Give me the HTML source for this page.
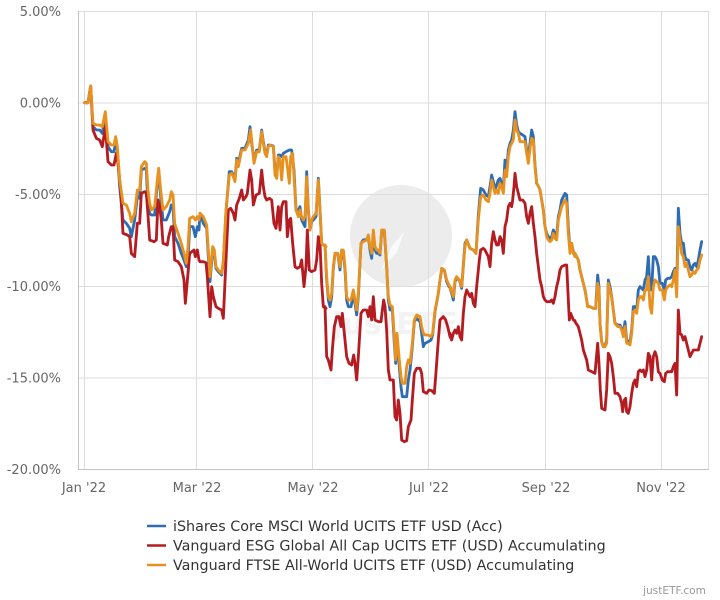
<!DOCTYPE html>
<html><head><meta charset="utf-8"><style>
html,body{margin:0;padding:0;background:#fff;}
svg{display:block;}
</style></head><body>
<svg width="720" height="600" viewBox="0 0 720 600" xmlns="http://www.w3.org/2000/svg">
<rect width="720" height="600" fill="#fff"/>
<!-- watermark -->
<circle cx="401" cy="236" r="51" fill="#ececec"/>
<polygon points="380,272 392,246 404,232 397,252" fill="#fafafa"/>
<text x="395" y="334" text-anchor="middle" font-family="DejaVu Sans, sans-serif" font-size="30" font-weight="bold" fill="#f3f3f3">justETF</text>
<!-- grid -->
<g stroke="#dcdcdc" stroke-width="1" fill="none">
<line x1="78" y1="11.5" x2="709" y2="11.5"/>
<line x1="78" y1="103" x2="709" y2="103"/>
<line x1="78" y1="194.5" x2="709" y2="194.5"/>
<line x1="78" y1="286.5" x2="709" y2="286.5"/>
<line x1="78" y1="378" x2="709" y2="378"/>
<line x1="84.5" y1="11" x2="84.5" y2="469"/>
<line x1="196.5" y1="11" x2="196.5" y2="469"/>
<line x1="312.5" y1="11" x2="312.5" y2="469"/>
<line x1="428.5" y1="11" x2="428.5" y2="469"/>
<line x1="545.5" y1="11" x2="545.5" y2="469"/>
<line x1="661.5" y1="11" x2="661.5" y2="469"/>
<line x1="708.5" y1="11" x2="708.5" y2="469"/>
</g>
<g stroke="#c4c4c4" stroke-width="1" fill="none">
<line x1="78.5" y1="11" x2="78.5" y2="469.5"/>
<line x1="78" y1="469.5" x2="709" y2="469.5"/>
</g>
<!-- y labels -->
<g font-family="DejaVu Sans, sans-serif" font-size="13" fill="#666" text-anchor="end">
<text x="61" y="16">5.00%</text>
<text x="61" y="107.5">0.00%</text>
<text x="61" y="199">-5.00%</text>
<text x="61" y="291">-10.00%</text>
<text x="61" y="382.5">-15.00%</text>
<text x="61" y="474">-20.00%</text>
</g>
<!-- x labels -->
<g font-family="DejaVu Sans, sans-serif" font-size="13" fill="#666" text-anchor="middle">
<text x="84" y="492">Jan '22</text>
<text x="197" y="492">Mar '22</text>
<text x="313" y="492">May '22</text>
<text x="429" y="492">Jul '22</text>
<text x="546" y="492">Sep '22</text>
<text x="661" y="492">Nov '22</text>
</g>
<!-- series -->
<g fill="none" stroke-width="8.5" stroke-linejoin="round" stroke-linecap="round">
<!-- BLUE -->
<g stroke="#2f6db3">
<polyline transform="translate(78 80) scale(0.33333)" points="20,68 30,68 38,20 45,140 55,150 65,150 73,160 82,100 90,200 100,215 108,215 113,185 118,210 125,320 135,420 145,430 155,445 160,470 170,420 178,350 185,355 190,270 200,265 205,270 210,380 215,400 220,405 230,405 238,310 242,270 248,350 255,420 265,420 275,395 280,375 285,380 290,470 300,490 310,520 318,540 325,560 330,540 335,440 345,440 352,470 358,440 363,450 366,400"/>
<polyline transform="translate(200 110) scale(0.33333)" points="0,310 10,340 20,355 25,440 30,515 38,420 43,430 48,475 55,485 65,495 70,455 78,305 88,185 95,185 100,195 105,210 110,145 115,160 125,115 135,115 145,90 150,50 155,100 162,150 170,120 178,120 185,60 190,95 195,125 200,135 205,105 210,105 220,108 225,180 230,200 235,135 240,135 245,140 250,130 258,125 268,120 275,120 282,180 288,300 295,300 300,290 305,330 310,340 315,350 320,185 325,300 330,360 335,335 340,330 348,320 355,205 360,300 365,400 370,405 378,410"/>
<polyline transform="translate(325 200) scale(0.33333)" points="0,135 5,240 10,300 15,320 20,290 25,205 30,160 38,160 45,210 50,150 55,155 60,210 65,300 70,320 78,320 85,285 90,310 95,345 100,290 108,130 115,120 125,118 130,110 135,150 140,175 145,100 150,150 155,160 160,160 165,165 170,95 178,95 185,200 190,300 195,330 202,330 208,430 212,490 216,420 222,490 228,560 232,590 245,590 250,540 255,510 262,440 268,365 275,355 285,365 290,400 295,440 300,430 310,425 318,420 323,405 330,335 340,280 345,240 350,210 358,210 365,245 372,260 378,265"/>
<polyline transform="translate(450 100) scale(0.33333)" points="0,565 5,580 10,600 15,545 20,535 28,540 35,565 40,495 45,430 50,420 60,445 70,450 78,460 85,345 92,265 100,270 108,285 115,290 120,260 125,225 130,245 135,270 140,255 145,240 150,235 155,250 160,265 165,180 170,210 175,150 180,130 185,120 190,90 195,35 200,75 205,95 210,100 218,105 225,110 230,150 235,170 240,130 245,90 250,110 255,195 260,250 265,258 270,270 275,300 280,330 285,380 290,400 295,410 300,415 305,410 310,390 315,400 320,405 325,350 330,330 335,300 340,290 345,280 350,285 355,380 360,450 365,430 370,455 375,465"/>
<polyline transform="translate(575 190) scale(0.33333)" points="0,190 10,210 15,240 20,260 25,280 30,300 35,330 38,350 45,350 55,355 62,355 68,255 72,290 75,400 80,455 85,470 90,470 95,450 100,270 105,290 110,320 115,360 120,400 128,405 135,405 140,415 145,430 150,395 155,450 160,455 165,455 170,420 175,350 180,350 185,360 190,300 195,290 200,295 205,300 210,270 215,260 220,200 225,300 230,300 235,200 240,200 245,210 250,230 255,280 262,280 268,300 272,270 278,265 285,265 290,260 295,245 300,235 305,300 310,55 315,130 320,160 325,160 330,200 335,210 340,210 345,230 350,240 355,225 360,220 365,230 370,210 375,180 380,155"/>
</g>
<!-- RED -->
<g stroke="#b41c22">
<polyline transform="translate(78 80) scale(0.33333)" points="20,68 30,68 38,18 45,150 55,175 65,180 73,200 82,140 90,245 100,255 108,255 115,220 120,250 128,330 135,460 148,465 155,470 160,520 170,530 178,430 185,430 190,340 200,335 205,340 210,405 215,480 228,485 235,480 240,360 245,380 250,420 255,490 268,495 272,470 280,440 285,440 290,540 300,545 310,560 318,600 322,670 330,580 335,520 348,510 352,530 358,510 363,540 366,545"/>
<polyline transform="translate(200 110) scale(0.33333)" points="0,455 10,455 18,458 22,500 30,620 35,530 40,560 48,590 55,595 65,600 70,625 78,450 85,300 92,295 100,310 105,330 110,285 118,265 125,240 130,270 138,260 142,250 150,180 155,210 160,285 168,255 178,250 185,180 190,230 195,260 200,270 208,265 215,270 222,340 228,355 235,290 240,360 245,290 250,275 258,275 262,380 268,330 272,325 278,400 285,470 292,475 300,470 305,450 312,530 318,470 322,360 328,480 335,485 345,480 350,450 355,380 360,400 365,520 370,590 378,595"/>
<polyline transform="translate(325 200) scale(0.33333)" points="0,320 5,470 10,480 18,510 22,450 28,380 35,350 42,350 48,380 52,340 58,400 65,470 72,490 80,495 86,465 90,490 95,540 100,470 108,340 115,330 125,330 130,350 135,320 140,360 145,290 150,360 160,365 168,365 172,330 176,300 180,320 185,390 190,510 195,540 205,540 210,650 215,660 220,600 225,640 230,720 238,725 245,722 250,680 258,660 262,600 268,520 275,505 285,505 290,520 295,575 305,580 312,570 320,572 328,580 332,530 340,420 345,360 355,350 362,360 368,380 375,410 378,415"/>
<polyline transform="translate(450 100) scale(0.33333)" points="0,700 5,720 10,700 15,690 20,700 25,680 30,710 35,720 40,640 45,590 50,570 55,580 60,590 65,580 70,610 75,620 80,560 88,480 92,450 100,445 105,450 110,460 115,470 120,500 125,430 130,395 135,420 140,435 145,435 150,410 155,420 160,460 165,380 170,360 175,320 180,310 185,320 188,300 192,260 195,220 200,260 205,280 210,300 218,300 225,310 230,350 235,370 240,340 245,320 250,370 255,410 260,460 265,500 270,540 275,560 280,590 285,600 290,605 300,605 305,600 310,610 315,590 320,560 325,540 330,510 335,500 345,495 350,495 355,600 358,660 362,640 370,660 375,662"/>
<polyline transform="translate(575 190) scale(0.33333)" points="0,395 10,410 15,430 20,450 25,480 35,510 40,540 50,545 60,550 68,460 72,520 76,600 80,655 90,660 95,600 100,490 105,500 110,520 115,560 120,610 128,610 135,620 140,640 143,665 148,630 152,625 155,665 160,670 165,650 170,610 175,580 180,570 185,590 190,545 195,540 200,545 205,540 210,560 215,540 220,490 225,500 230,570 235,500 240,485 245,500 250,545 255,550 262,570 268,575 272,550 278,545 285,545 290,545 295,530 300,520 305,615 310,360 315,430 320,435 325,450 330,440 335,460 340,480 345,500 350,490 355,480 362,480 370,480 375,460 380,440"/>
</g>
<!-- ORANGE -->
<g stroke="#e8911f">
<polyline transform="translate(78 80) scale(0.33333)" points="20,68 30,68 38,18 45,130 55,135 65,135 73,140 82,95 90,185 100,195 108,195 113,170 118,200 125,300 135,370 145,375 155,400 160,425 170,400 178,330 185,330 190,260 200,245 205,250 210,330 215,370 220,390 230,380 238,300 242,265 248,330 255,390 265,380 275,360 280,335 285,345 290,430 300,460 310,490 318,520 325,550 330,500 335,415 345,410 352,420 358,410 363,420 366,400"/>
<polyline transform="translate(200 110) scale(0.33333)" points="0,310 10,320 20,345 25,420 30,500 38,410 43,420 48,470 55,480 65,490 70,450 78,300 88,195 95,190 100,200 105,215 110,150 115,170 125,120 135,120 145,100 152,60 158,120 162,160 170,125 178,125 185,65 190,100 195,130 200,140 205,110 210,105 220,110 225,195 230,205 235,140 240,150 245,210 250,140 258,140 262,170 268,220 272,140 278,130 282,200 288,300 295,320 300,300 305,320 310,330 315,320 320,200 325,300 330,360 335,330 340,320 348,310 355,210 360,300 365,400 370,405 378,410"/>
<polyline transform="translate(325 200) scale(0.33333)" points="0,135 5,230 10,290 15,300 20,280 25,200 30,160 38,160 45,200 50,150 55,150 60,200 65,290 70,300 78,300 85,270 90,300 95,330 100,280 108,130 115,125 125,120 130,105 135,140 140,160 145,90 150,140 155,150 160,150 165,160 170,90 178,90 185,200 190,290 195,315 202,320 208,410 212,480 216,400 222,470 228,530 232,550 240,550 245,500 250,480 255,490 262,430 268,360 275,345 285,350 290,380 295,400 300,405 310,405 318,410 323,400 330,330 340,280 345,240 350,205 358,210 365,240 372,255 378,265"/>
<polyline transform="translate(450 100) scale(0.33333)" points="0,565 5,575 10,590 15,540 20,530 28,540 35,560 40,500 45,440 50,420 60,445 70,450 78,460 85,360 92,290 100,285 108,300 115,305 120,280 125,240 130,260 135,280 140,270 145,280 150,250 155,260 160,280 165,210 170,230 175,170 180,140 185,130 190,120 195,60 200,90 205,100 210,125 218,125 225,125 230,160 235,190 240,145 245,115 250,120 255,200 260,250 265,258 270,270 275,300 280,330 285,380 290,410 295,420 300,425 305,420 310,400 315,415 320,420 325,360 330,340 335,320 340,310 345,300 350,310 355,400 360,460 365,430 370,460 375,470"/>
<polyline transform="translate(575 190) scale(0.33333)" points="0,190 10,210 15,240 20,260 25,280 30,300 35,330 38,350 45,350 55,355 62,355 68,280 72,300 75,400 80,455 85,470 90,470 95,460 100,280 105,300 110,320 115,360 120,400 128,410 135,410 140,420 145,440 150,410 155,460 160,460 165,465 170,430 175,365 180,360 185,370 190,330 195,320 200,320 205,330 210,300 215,300 220,260 225,350 230,370 235,290 240,270 245,275 250,280 255,300 262,300 268,330 272,300 278,290 285,285 290,290 295,270 300,240 305,320 310,110 315,150 320,190 325,200 330,230 335,220 340,240 345,260 350,255 355,245 360,250 365,240 370,235 375,210 380,195"/>
</g>
</g>
<!-- legend -->
<g stroke-width="2.5">
<line x1="147" y1="526" x2="166" y2="526" stroke="#2f6db3"/>
<line x1="147" y1="545.5" x2="166" y2="545.5" stroke="#b41c22"/>
<line x1="147" y1="565" x2="166" y2="565" stroke="#e8911f"/>
</g>
<g font-family="DejaVu Sans, sans-serif" font-size="14.3" fill="#333">
<text x="173" y="531">iShares Core MSCI World UCITS ETF USD (Acc)</text>
<text x="173" y="550.5">Vanguard ESG Global All Cap UCITS ETF (USD) Accumulating</text>
<text x="173" y="570">Vanguard FTSE All-World UCITS ETF (USD) Accumulating</text>
</g>
<text x="706" y="594" text-anchor="end" font-family="DejaVu Sans, sans-serif" font-size="10.5" fill="#999" textLength="63" lengthAdjust="spacingAndGlyphs">justETF.com</text>
</svg>
</body></html>
